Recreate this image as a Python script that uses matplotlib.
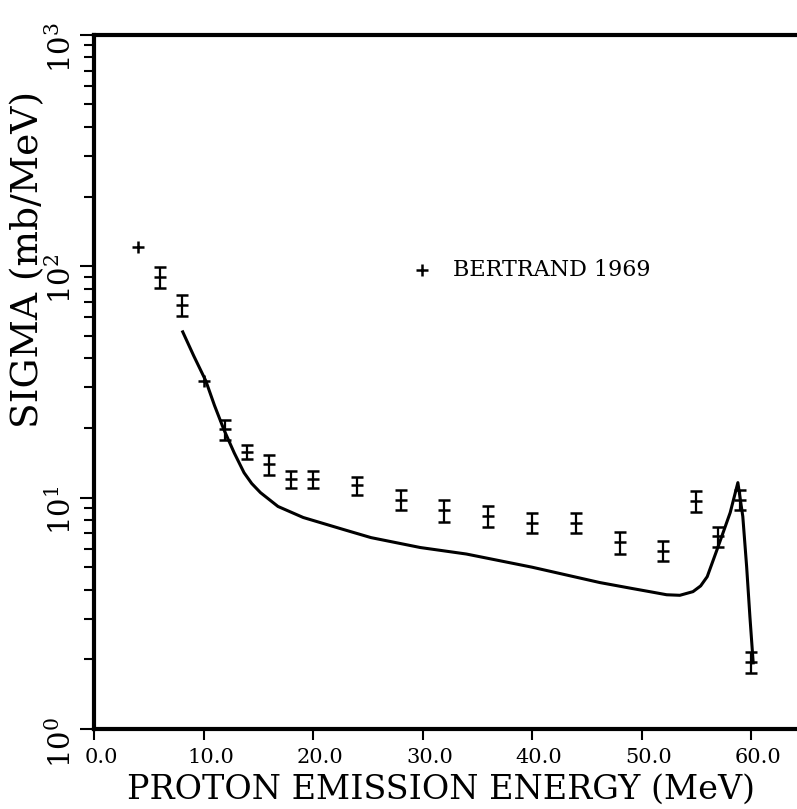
import numpy as np
import matplotlib
matplotlib.use("Agg")
import matplotlib.pyplot as plt
from matplotlib.transforms import ScaledTranslation

plt.rcParams['font.family'] = 'DejaVu Serif'
plt.rcParams['mathtext.fontset'] = 'dejavuserif'

# measured spectrum (Bertrand 1969), with error bars
e_pts = [6, 8, 12, 14, 16, 18, 20, 24, 28, 32, 36, 40, 44, 48, 52, 55, 57, 59, 60]
s_pts = [90, 68, 19.7, 15.8, 13.9, 12.0, 12.0, 11.3, 9.8, 8.8, 8.3, 7.8, 7.8,
         6.4, 5.9, 9.7, 6.8, 9.8, 1.95]
s_err = [9.5, 7.3, 2.0, 1.1, 1.4, 1.05, 1.0, 1.0, 1.0, 0.95, 0.85, 0.8, 0.8,
         0.7, 0.6, 1.0, 0.68, 1.0, 0.2]

# points drawn without error bars
e_bare = [4, 10]
s_bare = [121, 32]

# calculated spectrum
e_calc = [8.1, 9.1, 10.2, 11.0, 11.85, 12.8, 13.7, 14.4, 15.2, 16.8, 19.1,
          22.8, 25.3, 29.8, 34, 40, 46.2, 49.2, 51, 52.3, 53.5, 54.7, 55.4,
          56.0, 57.0, 58.1, 58.8, 59.25, 59.6, 59.9, 60.2]
s_calc = [52, 41, 32, 25, 19.7, 15.6, 12.8, 11.5, 10.5, 9.15, 8.2, 7.27,
          6.71, 6.08, 5.7, 5.0, 4.29, 4.04, 3.9, 3.80, 3.78, 3.92, 4.15,
          4.55, 6.14, 8.61, 11.6, 8.28, 5.03, 3.05, 1.93]

fig = plt.figure(figsize=(7.97, 8.09), dpi=100)
ax = fig.add_axes([0.118, 0.099, 0.882, 0.858])

ax.plot(e_calc, s_calc, color='black', lw=2.2)
ax.errorbar(e_pts, s_pts, yerr=s_err, fmt='_', color='black', ms=9, mew=1.8,
            elinewidth=1.6, capsize=4, capthick=1.6)
ax.plot(e_bare, s_bare, '+', color='black', ms=9, mew=1.8)

ax.set_yscale('log')
ax.set_ylim(1, 1000)
ax.set_xlim(0, 64.2)
ax.set_xticks([0, 10, 20, 30, 40, 50, 60])
ax.set_xticklabels(['0.0', '10.0', '20.0', '30.0', '40.0', '50.0', '60.0'])

for s in ['left', 'top', 'bottom']:
    ax.spines[s].set_linewidth(3)
ax.spines['right'].set_visible(False)

ax.tick_params(axis='x', which='major', direction='out', length=8, width=1.5,
               pad=6, labelsize=15)
ax.tick_params(axis='x', which='minor', bottom=False)
ax.tick_params(axis='y', which='major', direction='out', length=10, width=1.5,
               pad=2, labelsize=21, labelrotation=90)
ax.tick_params(axis='y', which='minor', direction='out', length=7, width=1.5)

# x tick labels sit a little right of their ticks
shift = ScaledTranslation(7 / 100, 0, fig.dpi_scale_trans)
for lab in ax.get_xticklabels():
    lab.set_transform(lab.get_transform() + shift)

ax.set_xlabel('PROTON EMISSION ENERGY (MeV)', fontsize=24)
ax.xaxis.set_label_coords(0.494, -0.064)
ax.set_ylabel('SIGMA (mb/MeV)', fontsize=27)
ax.yaxis.set_label_coords(-0.068, 0.676)

# legend entry
ax.plot([0.4666], [0.661], '+', color='black', ms=9, mew=1.8,
        transform=ax.transAxes, clip_on=False)
ax.text(0.5107, 0.661, 'BERTRAND 1969', transform=ax.transAxes,
        fontsize=16, va='center', ha='left')

fig.savefig('out.png', dpi=100)
